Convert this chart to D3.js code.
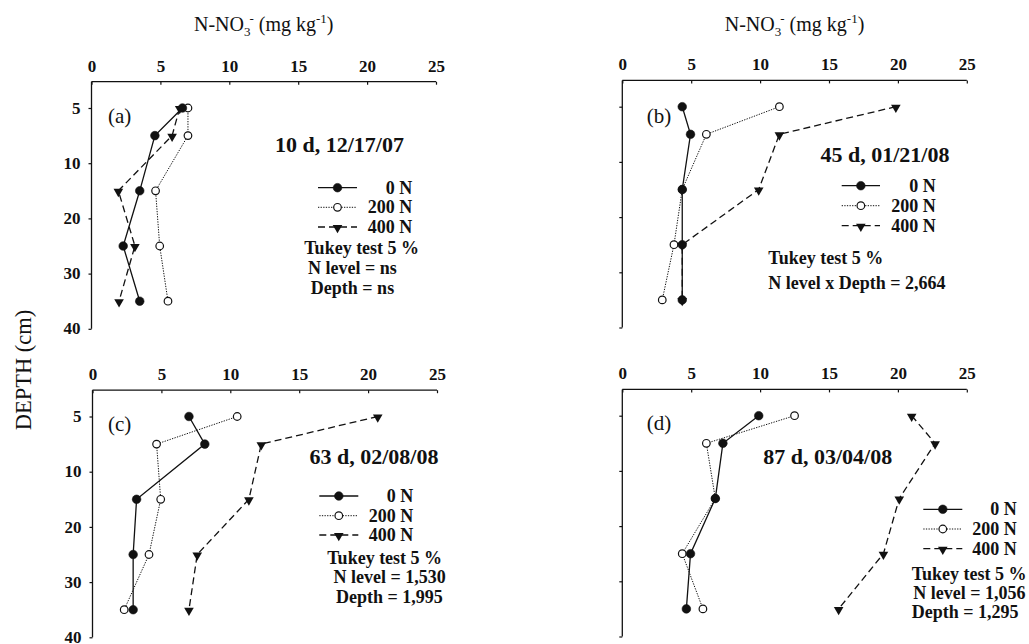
<!DOCTYPE html>
<html>
<head>
<meta charset="utf-8">
<script src="https://cdn.jsdelivr.net/npm/d3@7"></script>
<style>
  html, body { margin: 0; padding: 0; background: #fff; }
  svg { display: block; }
  text { font-family: "Liberation Serif", "Times New Roman", serif; fill: #111; }
</style>
</head>
<body>
<svg id="chart" width="1029" height="644"></svg>
<script>
// ---------------- DATA ----------------
const xTicks = [0, 5, 10, 15, 20, 25];
const depthTicks = [5, 10, 20, 30, 40];
const depths = [5, 7.5, 15, 25, 35];
const seriesNames = ["0 N", "200 N", "400 N"];

// panel (a) 10 d, 12/17/07
const a0N   = [6.6, 4.6, 3.5, 2.3, 3.5];
const a200N = [7.0, 7.0, 4.65, 4.95, 5.55];
const a400N = [6.4, 5.85, 1.95, 3.15, 2.0];
// panel (b) 45 d, 01/21/08
const b0N   = [4.35, 4.95, 4.35, 4.35, 4.35];
const b200N = [11.4, 6.1, 4.35, 3.75, 2.9];
const b400N = [19.85, 11.4, 9.9, 4.35, 4.35];
// panel (c) 63 d, 02/08/08
const c0N   = [7.0, 8.15, 3.2, 2.95, 2.95];
const c200N = [10.5, 4.65, 4.95, 4.1, 2.3];
const c400N = [20.7, 12.25, 11.35, 7.6, 7.0];
// panel (d) 87 d, 03/04/08
const d0N   = [9.9, 7.3, 6.75, 4.95, 4.65];
const d200N = [12.5, 6.1, 6.75, 4.35, 5.85];
const d400N = [21.0, 22.7, 20.1, 18.95, 15.7];

const panelLetters = ["(a)", "(b)", "(c)", "(d)"];
const panelTitles = ["10 d, 12/17/07", "45 d, 01/21/08", "63 d, 02/08/08", "87 d, 03/04/08"];
const panelStats = [
  ["Tukey test 5 %", "N level = ns", "Depth = ns"],
  ["Tukey test 5 %", "N level x Depth = 2,664"],
  ["Tukey test 5 %", "N level = 1,530", "Depth = 1,995"],
  ["Tukey test 5 %", "N level = 1,056", "Depth = 1,295"]
];
const panelData = [
  [a0N, a200N, a400N],
  [b0N, b200N, b400N],
  [c0N, c200N, c400N],
  [d0N, d200N, d400N]
];

// ---------------- LAYOUT ----------------
const W = 344.5, TICKGAP = 55.2, TOPGAP = 26.3;
const layout = [
  { x0: 91.5, y5: 108.0, yLabels: true,
    letter: [108, 123], title: [339.5, 151.5],
    leg: { x1: 318, x2: 357, tx: 412.3, ys: [187.7, 207.3, 227] },
    stats: { anchor: "middle", pos: [[361.7, 248.3], [352.5, 268.3], [352.5, 288.3]] } },
  { x0: 622.3, y5: 106.7, yLabels: false,
    letter: [646.7, 123], title: [885, 161.5],
    leg: { x1: 841.7, x2: 880, tx: 935.7, ys: [185.7, 205.7, 225.7] },
    stats: { anchor: "start", pos: [[768.3, 257.7], [768.3, 282.7]] } },
  { x0: 92.5, y5: 416.5, yLabels: true,
    letter: [108, 430.5], title: [374, 464],
    leg: { x1: 319.3, x2: 358.3, tx: 413.3, ys: [496, 515.7, 535] },
    stats: { anchor: "middle", pos: [[384.7, 557.7], [389.7, 576.7], [389.3, 596.7]] } },
  { x0: 622.3, y5: 415.7, yLabels: false,
    letter: [646.7, 430], title: [827.7, 464],
    leg: { x1: 923.3, x2: 962.3, tx: 1016.7, ys: [509.3, 529, 548.7] },
    stats: { anchor: "start", pos: [[911.7, 574], [913.3, 592.7], [911.7, 611.7]] } }
];

const styles = [
  { dash: null, width: 1.3, marker: "filled" },
  { dash: "1.3,1.3", width: 1.0, marker: "open" },
  { dash: "7,4", width: 1.3, marker: "tri" }
];

const svg = d3.select("#chart");
const triPath = d3.symbol(d3.symbolTriangle, 40)();

function drawMarker(g, type, x, y) {
  if (type === "filled") {
    g.append("circle").attr("cx", x).attr("cy", y).attr("r", 4.3)
      .attr("fill", "#111").attr("stroke", "#111").attr("stroke-width", 0.6);
  } else if (type === "open") {
    g.append("circle").attr("cx", x).attr("cy", y).attr("r", 3.8)
      .attr("fill", "#fff").attr("stroke", "#111").attr("stroke-width", 1.2);
  } else {
    g.append("path").attr("d", triPath)
      .attr("transform", `translate(${x},${y + 0.8}) rotate(180)`)
      .attr("fill", "#111");
  }
}

layout.forEach((L, pi) => {
  const g = svg.append("g");
  const x = d3.scaleLinear().domain([0, 25]).range([L.x0, L.x0 + W]);
  const y = d3.scaleLinear().domain(depthTicks)
    .range(depthTicks.map((d, i) => L.y5 + i * TICKGAP));
  const yTop = L.y5 - TOPGAP;

  // top axis
  const xAxis = d3.axisTop(x).tickValues(xTicks).tickSize(-3).tickPadding(10);
  const gx = g.append("g").attr("transform", `translate(0,${yTop})`).call(xAxis);
  gx.select(".domain").attr("d", `M${L.x0},0H${L.x0 + W}`).attr("stroke", "#111").attr("stroke-width", 1.3);
  gx.selectAll(".tick line").attr("stroke", "#111").attr("stroke-width", 1.2);
  gx.selectAll(".tick text").attr("font-family", "Liberation Serif").attr("font-weight", "bold")
    .attr("font-size", 17).attr("fill", "#111");

  // left axis
  const yAxis = d3.axisLeft(y).tickValues(depthTicks).tickSize(3).tickPadding(8)
    .tickFormat(L.yLabels ? d3.format("d") : () => "");
  const gy = g.append("g").attr("transform", `translate(${L.x0},0)`).call(yAxis);
  gy.select(".domain").attr("d", `M0,${yTop}V${y(40)}`).attr("stroke", "#111").attr("stroke-width", 1.3);
  gy.selectAll(".tick line").attr("stroke", "#111").attr("stroke-width", 1.2);
  gy.selectAll(".tick text").attr("font-family", "Liberation Serif").attr("font-weight", "bold")
    .attr("font-size", 17).attr("fill", "#111").attr("dy", "0.3em");

  // series lines
  const line = d3.line().x(d => x(d[0])).y(d => y(d[1]));
  const data = panelData[pi];
  [2, 1, 0].forEach(si => {
    const pts = data[si].map((v, i) => [v, depths[i]]);
    g.append("path").attr("d", line(pts)).attr("fill", "none")
      .attr("stroke", "#111").attr("stroke-width", styles[si].width)
      .attr("stroke-dasharray", styles[si].dash);
  });
  [2, 1, 0].forEach(si => {
    data[si].forEach((v, i) => drawMarker(g, styles[si].marker, x(v), y(depths[i])));
  });

  // letter
  g.append("text").attr("x", L.letter[0]).attr("y", L.letter[1])
    .attr("font-size", 21).text(panelLetters[pi]);
  // title
  g.append("text").attr("x", L.title[0]).attr("y", L.title[1]).attr("text-anchor", "middle")
    .attr("font-size", 22).attr("font-weight", "bold").text(panelTitles[pi]);

  // legend
  seriesNames.forEach((name, si) => {
    const ly = L.leg.ys[si];
    g.append("line").attr("x1", L.leg.x1).attr("x2", L.leg.x2).attr("y1", ly).attr("y2", ly)
      .attr("stroke", "#111").attr("stroke-width", styles[si].width)
      .attr("stroke-dasharray", styles[si].dash);
    drawMarker(g, styles[si].marker, (L.leg.x1 + L.leg.x2) / 2, ly);
    g.append("text").attr("x", L.leg.tx).attr("y", ly + 6).attr("text-anchor", "end")
      .attr("font-size", 18).attr("font-weight", "bold").text(name);
  });

  // stats
  panelStats[pi].forEach((s, k) => {
    g.append("text").attr("x", L.stats.pos[k][0]).attr("y", L.stats.pos[k][1] + 6)
      .attr("text-anchor", L.stats.anchor)
      .attr("font-size", 18).attr("font-weight", "bold").text(s);
  });
});

// x-axis titles (top of each column)
[layout[0], layout[1]].forEach(L => {
  const t = svg.append("text").attr("x", L.x0 + W / 2).attr("y", 31)
    .attr("text-anchor", "middle").attr("font-size", 20);
  t.append("tspan").text("N-NO");
  t.append("tspan").attr("dy", 5).attr("font-size", 13).text("3");
  t.append("tspan").attr("dy", -13).attr("dx", -1).attr("font-size", 13).text("-");
  t.append("tspan").attr("dy", 8).attr("dx", 5).text("(mg kg");
  t.append("tspan").attr("dy", -8).attr("font-size", 13).text("-1");
  t.append("tspan").attr("dy", 8).text(")");
});

// y-axis title
svg.append("text").attr("transform", "translate(31,370) rotate(-90)")
  .attr("text-anchor", "middle").attr("font-size", 22.5).text("DEPTH (cm)");
</script>
</body>
</html>
